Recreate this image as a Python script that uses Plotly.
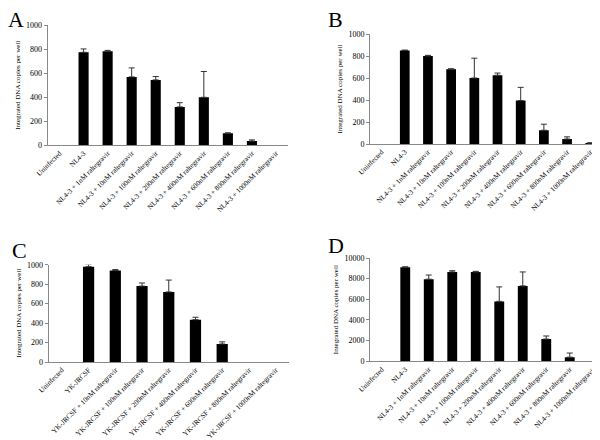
import plotly.graph_objects as go

W, H = 600, 440
NA = None

# ---------------- data ----------------
cats_a = ["Uninfected", "NL4-3", "NL4-3 + 1nM raltegravir", "NL4-3 + 10nM raltegravir",
          "NL4-3 + 100nM raltegravir", "NL4-3 + 200nM raltegravir", "NL4-3 + 400nM raltegravir",
          "NL4-3 + 600nM raltegravir", "NL4-3 + 800nM raltegravir", "NL4-3 + 1000nM raltegravir"]
vals_a = [0, 775, 783, 570, 545, 320, 400, 100, 35, 0]
errs_a = [NA, 28, 8, 75, 28, 35, 215, 4, 10, NA]

cats_b = ["Uninfected", "NL4-3", "NL4-3 + 1nM raltegravir", "NL4-3 + 10nM raltegravir",
          "NL4-3 + 100nM raltegravir", "NL4-3 + 200nM raltegravir", "NL4-3 + 400nM raltegravir",
          "NL4-3 + 600nM raltegravir", "NL4-3 + 800nM raltegravir", "NL4-3 + 1000nM raltegravir"]
vals_b = [0, 850, 800, 680, 600, 625, 395, 125, 45, 8]
errs_b = [NA, 4, 6, 4, 180, 20, 120, 55, 20, 3]

cats_c = ["Uninfected", "YK-JRCSF", "YK-JRCSF + 10nM raltegravir", "YK-JRCSF + 100nM raltegravir",
          "YK-JRCSF + 200nM raltegravir", "YK-JRCSF + 400nM raltegravir", "YK-JRCSF + 600nM raltegravir",
          "YK-JRCSF + 800nM raltegravir", "YK-JRCSF + 1000nM raltegravir"]
vals_c = [0, 980, 940, 780, 720, 435, 185, 0, 0]
errs_c = [NA, 22, 10, 32, 122, 25, 22, NA, NA]

cats_d = ["Uninfected", "NL4-3", "NL4-3 + 1nM raltegravir", "NL4-3 + 10nM raltegravir",
          "NL4-3 + 100nM raltegravir", "NL4-3 + 200nM raltegravir", "NL4-3 + 400nM raltegravir",
          "NL4-3 + 600nM raltegravir", "NL4-3 + 800nM raltegravir", "NL4-3 + 1000nM raltegravir"]
vals_d = [0, 9100, 7950, 8650, 8650, 5800, 7300, 2150, 400, 0]
errs_d = [NA, 50, 400, 120, 60, 1400, 1350, 300, 400, NA]

panel_letters = ["A", "B", "C", "D"]
y_title = "Integrated DNA copies per well"

# ---------------- layout (pixel boxes) ----------------
panels = [
    dict(cats=cats_a, vals=vals_a, errs=errs_a, x0=39.5, x1=280, ytop=17.3, ybot=137.3,
         rng=[0, 1000], dtick=200, letter=(8, 12)),
    dict(cats=cats_b, vals=vals_b, errs=errs_b, x0=362, x1=597, ytop=26, ybot=136,
         rng=[0, 1000], dtick=200, letter=(327, 12)),
    dict(cats=cats_c, vals=vals_c, errs=errs_c, x0=40.5, x1=281, ytop=256.7, ybot=354,
         rng=[0, 1000], dtick=200, letter=(11, 242)),
    dict(cats=cats_d, vals=vals_d, errs=errs_d, x0=362, x1=597, ytop=250, ybot=353.3,
         rng=[0, 10000], dtick=2000, letter=(328, 237)),
]

FONT = "Liberation Serif"
TXT = "black"
fig = go.Figure()
layout = dict(width=W, height=H, margin=dict(l=0, r=0, t=0, b=0),
              paper_bgcolor="white", plot_bgcolor="white", showlegend=False,
              font=dict(family=FONT, color=TXT), bargap=0.58)
annotations = []
for i, p in enumerate(panels):
    n = i + 1
    xa = "x" if n == 1 else f"x{n}"
    ya = "y" if n == 1 else f"y{n}"
    fig.add_trace(go.Bar(
        x=p["cats"], y=p["vals"], xaxis=xa, yaxis=ya,
        marker=dict(color="black", line=dict(width=0)),
    ))
    # error bars only where an error value exists
    ex = [c for c, e in zip(p["cats"], p["errs"]) if e is not None]
    ey = [v for v, e in zip(p["vals"], p["errs"]) if e is not None]
    ee = [e for e in p["errs"] if e is not None]
    fig.add_trace(go.Scatter(
        x=ex, y=ey, xaxis=xa, yaxis=ya, mode="markers",
        marker=dict(size=1, opacity=0), hoverinfo="skip",
        error_y=dict(type="data", array=ee, arrayminus=[0] * len(ee),
                     symmetric=False, color="#333", thickness=1, width=3),
    ))
    xkey = "xaxis" if n == 1 else f"xaxis{n}"
    ykey = "yaxis" if n == 1 else f"yaxis{n}"
    layout[xkey] = dict(domain=[p["x0"] / W, p["x1"] / W], anchor=ya,
                        showline=True, linecolor="#888", linewidth=1,
                        ticks="", tickangle=-45, showgrid=False, automargin=False,
                        tickfont=dict(family=FONT, size=7.2, color=TXT),
                        categoryorder="array", categoryarray=p["cats"])
    layout[ykey] = dict(domain=[1 - p["ybot"] / H, 1 - p["ytop"] / H], anchor=xa,
                        range=p["rng"], dtick=p["dtick"], tickformat="d", showline=True,
                        linecolor="#888", linewidth=1, ticks="outside", ticklen=3,
                        tickcolor="#888", showgrid=False, zeroline=False, automargin=False,
                        tickfont=dict(family=FONT, size=8, color=TXT),
                        title=dict(text=y_title, font=dict(family=FONT, size=7, color=TXT),
                                   standoff=4))
    lx, ly = p["letter"]
    annotations.append(dict(text=panel_letters[i], x=lx / W, y=1 - ly / H, xref="paper",
                            yref="paper", showarrow=False, xanchor="center", yanchor="middle",
                            font=dict(family=FONT, size=22, color="black")))
layout["annotations"] = annotations
fig.update_layout(**layout)
fig.write_html("out.html")
